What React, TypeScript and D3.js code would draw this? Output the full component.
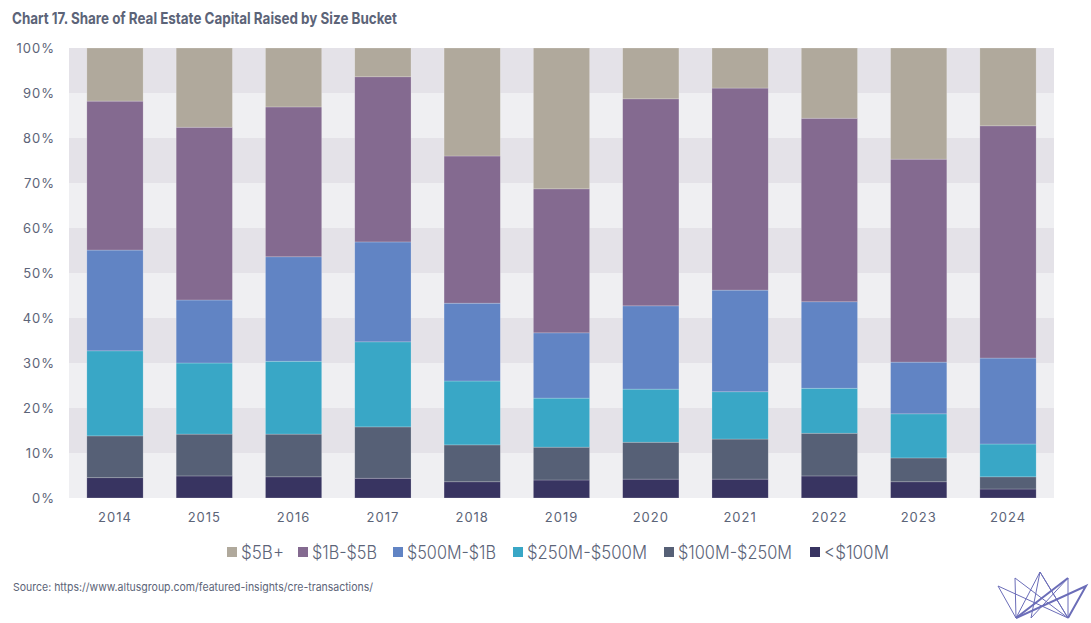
import React from 'react';
import * as d3 from 'd3';

const years = ['2014', '2015', '2016', '2017', '2018', '2019', '2020', '2021', '2022', '2023', '2024'];
const seriesNames = ['<$100M', '$100M-$250M', '$250M-$500M', '$500M-$1B', '$1B-$5B', '$5B+'];
const under100 = [4.5, 4.9, 4.7, 4.4, 3.6, 4.0, 4.2, 4.2, 4.9, 3.6, 2.0];
const from100to250 = [9.3, 9.3, 9.5, 11.4, 8.2, 7.3, 8.2, 8.9, 9.5, 5.3, 2.7];
const from250to500 = [18.9, 15.8, 16.2, 18.9, 14.2, 10.9, 11.8, 10.5, 10.0, 9.8, 7.3];
const from500to1B = [22.4, 14.0, 23.2, 22.2, 17.3, 14.5, 18.5, 22.6, 19.2, 11.5, 19.1];
const from1Bto5B = [33.1, 38.4, 33.3, 36.7, 32.7, 32.0, 46.0, 44.9, 40.8, 45.1, 51.6];
const over5B = [11.8, 17.6, 13.1, 6.4, 24.0, 31.3, 11.3, 8.9, 15.6, 24.7, 17.3];
const yTicks = [0, 10, 20, 30, 40, 50, 60, 70, 80, 90, 100];

const colors = ['#383461', '#566076', '#39a7c6', '#6184c4', '#846a90', '#b0a99c'];
const textColor = '#5c6478';

const App: React.FC = () => {
  const width = 1091;
  const height = 623;
  const left = 69, right = 1054, top = 48, bottom = 498;
  const values = [under100, from100to250, from250to500, from500to1B, from1Bto5B, over5B];

  const table = years.map((y, i) => {
    const row: { [k: string]: number | string } = { year: y };
    seriesNames.forEach((s, j) => { row[s] = values[j][i]; });
    return row;
  });
  const stacked = d3.stack<{ [k: string]: number | string }>()
    .keys(seriesNames)
    .value((d, k) => d[k] as number)
    .offset(d3.stackOffsetExpand)(table);

  const x = d3.scaleBand().domain(years).range([left, right]).paddingInner(0.37).paddingOuter(0.2);
  const y = d3.scaleLinear().domain([0, 1]).range([bottom, top]);

  // legend shown top series first
  const legendOrder = [5, 4, 3, 2, 1, 0];
  const legendX = [227, 298, 393, 513, 664, 810];
  const legendW = [43, 65, 89, 120, 114, 65];

  return (
    <svg width={width} height={height} style={{ position: 'absolute', left: 0, top: 0, fontFamily: 'Inter, "Noto Sans", sans-serif' }}>
      <rect width={width} height={height} fill="#fff" />
      <text x={12} y={24} fontSize={16} fontWeight={700} fill={textColor} textLength={385} lengthAdjust="spacingAndGlyphs">Chart 17. Share of Real Estate Capital Raised by Size Bucket</text>
      {yTicks.slice(0, -1).map((t) => (
        <rect key={t} x={left} width={right - left} y={y((t + 10) / 100)} height={y(t / 100) - y((t + 10) / 100)}
          fill={Math.round(t / 10) % 2 === 1 ? '#e4e2e8' : '#efeff2'} />
      ))}
      {yTicks.map((t) => (
        <text key={t} x={55} y={y(t / 100) + 5} textAnchor="end" fontSize={13} letterSpacing={1} fill={textColor}>{t}%</text>
      ))}
      {stacked.map((layer, j) => (
        <g key={layer.key} fill={colors[j]}>
          {layer.map((d, i) => (
            <rect key={i} x={x(years[i])} width={x.bandwidth()} y={y(d[1])} height={y(d[0]) - y(d[1])}
              stroke="#ffffff" strokeOpacity={0.35} strokeWidth={0.6} />
          ))}
        </g>
      ))}
      {years.map((yr) => (
        <text key={yr} x={(x(yr) as number) + x.bandwidth() / 2} y={522} textAnchor="middle" fontSize={13} letterSpacing={1} fill={textColor}>{yr}</text>
      ))}
      {legendOrder.map((j, k) => (
        <g key={j} transform={`translate(${legendX[k]},552)`}>
          <rect x={0} y={-5} width={10} height={10} fill={colors[j]} />
          <text x={14} y={7} fontSize={18} fontWeight={300} fill={textColor} textLength={legendW[k]} lengthAdjust="spacingAndGlyphs">{seriesNames[j]}</text>
        </g>
      ))}
      <text x={13} y={591} fontSize={11} fill={textColor} textLength={360} lengthAdjust="spacingAndGlyphs">Source:  https://www.altusgroup.com/featured-insights/cre-transactions/</text>
      <g stroke="#6b6db8" fill="none" strokeWidth={1}>
        <path d="M998,586 L1016,618 L1015,578 L1068,618 L1068,578 L1031,618 L1040,572 L1068,618" />
        <path d="M1016,618 L1040,572 L1068,618" />
        <path d="M1016,618 L1068,578" strokeWidth={2} />
        <path d="M1016,618 L1086,586 L1068,618" strokeWidth={2} />
        <path d="M998,586 L1068,618" />
      </g>
    </svg>
  );
};

export default App;
